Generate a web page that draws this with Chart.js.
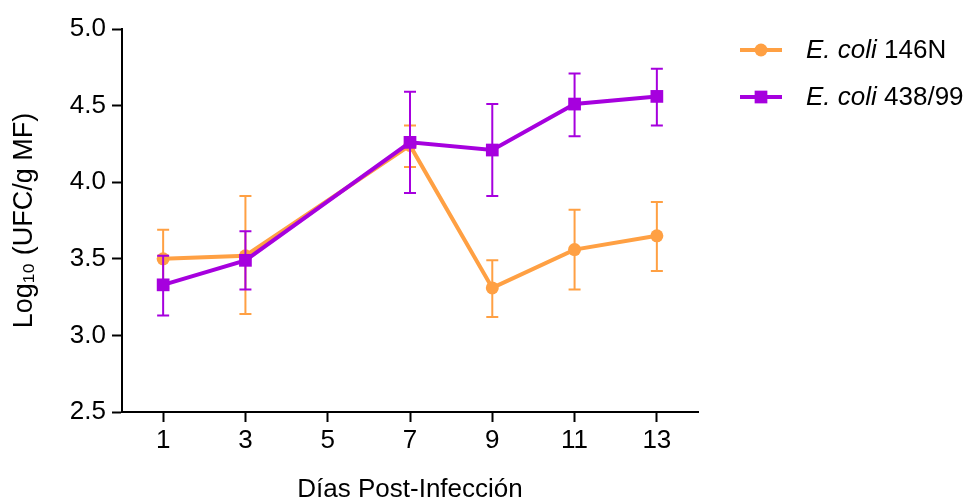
<!DOCTYPE html>
<html>
<head>
<meta charset="utf-8">
<script src="https://cdn.jsdelivr.net/npm/chart.js@4"></script>
<style>
  html, body { margin: 0; padding: 0; background: #fff; }
  #wrap { position: relative; width: 969px; height: 500px; }
</style>
</head>
<body>
<div id="wrap"><canvas id="chart" width="969" height="500"></canvas></div>
<script>
/* ══════════════════════════════════════
   DATA
══════════════════════════════════════ */
const days = [1, 3, 7, 9, 11, 13];
const xTicks = [1, 3, 5, 7, 9, 11, 13];
const yTicks = [2.5, 3, 3.5, 4, 4.5, 5];

const strainA = "146N";
const meanA = [3.50, 3.52, 4.24, 3.31, 3.56, 3.65];
const hiA = [3.69, 3.91, 4.37, 3.49, 3.82, 3.87];
const loA = [3.31, 3.14, 4.10, 3.12, 3.30, 3.42];

const strainB = "438/99";
const meanB = [3.33, 3.49, 4.26, 4.21, 4.51, 4.56];
const hiB = [3.52, 3.68, 4.59, 4.51, 4.71, 4.74];
const loB = [3.13, 3.30, 3.93, 3.91, 4.30, 4.37];

const ORANGE = "#FFA043";
const PURPLE = "#A600DE";
const FONT = "Liberation Sans, Arial, sans-serif";
const SIZE = 26;

/* ══════════════════════════════════════
   ERROR BARS (drawn under each dataset)
══════════════════════════════════════ */
const errorBars = {
  id: "errorBars",
  beforeDatasetDraw(chart, args) {
    const ds = chart.data.datasets[args.index];
    const x = chart.scales.x;
    const y = chart.scales.y;
    const ctx = chart.ctx;
    ctx.save();
    ctx.strokeStyle = ds.borderColor;
    ctx.lineWidth = 2;
    ds.data.forEach((p, i) => {
      const px = x.getPixelForValue(p.x);
      const top = y.getPixelForValue(ds.hi[i]);
      const bot = y.getPixelForValue(ds.lo[i]);
      ctx.beginPath();
      ctx.moveTo(px, top);
      ctx.lineTo(px, bot);
      ctx.moveTo(px - 6, top);
      ctx.lineTo(px + 6, top);
      ctx.moveTo(px - 6, bot);
      ctx.lineTo(px + 6, bot);
      ctx.stroke();
    });
    ctx.restore();
  },
};

/* ══════════════════════════════════════
   LEGEND (italic species + strain)
══════════════════════════════════════ */
const sideLegend = {
  id: "sideLegend",
  afterDraw(chart) {
    const ctx = chart.ctx;
    const rows = [
      { ds: chart.data.datasets[1], y: 50 },
      { ds: chart.data.datasets[0], y: 97 },
    ];
    ctx.save();
    rows.forEach(({ ds, y }) => {
      ctx.strokeStyle = ds.borderColor;
      ctx.lineWidth = 4;
      ctx.beginPath();
      ctx.moveTo(740, y);
      ctx.lineTo(782, y);
      ctx.stroke();
      ctx.fillStyle = ds.borderColor;
      Chart.helpers.drawPoint(ctx, {
        pointStyle: ds.pointStyle,
        radius: ds.pointRadius,
        borderWidth: 0,
      }, 761, y);

      ctx.fillStyle = "#000";
      ctx.textBaseline = "middle";
      ctx.font = `italic ${SIZE}px ${FONT}`;
      ctx.fillText("E. coli", 806, y + 1);
      const w = ctx.measureText("E. coli ").width;
      ctx.font = `${SIZE}px ${FONT}`;
      ctx.fillText(ds.label, 806 + w, y + 1);
    });
    ctx.restore();
  },
};

/* ══════════════════════════════════════
   CHART
══════════════════════════════════════ */
const pts = (means) => days.map((d, i) => ({ x: d, y: means[i] }));

new Chart(document.getElementById("chart"), {
  type: "line",
  data: {
    datasets: [
      {
        label: strainB,
        data: pts(meanB),
        hi: hiB,
        lo: loB,
        borderColor: PURPLE,
        backgroundColor: PURPLE,
        borderWidth: 4,
        pointStyle: "rect",
        pointRadius: 9,
        pointBorderWidth: 0,
        tension: 0,
      },
      {
        label: strainA,
        data: pts(meanA),
        hi: hiA,
        lo: loA,
        borderColor: ORANGE,
        backgroundColor: ORANGE,
        borderWidth: 4,
        pointStyle: "circle",
        pointRadius: 6.5,
        pointBorderWidth: 0,
        tension: 0,
      },
    ],
  },
  options: {
    responsive: false,
    animation: false,
    layout: { padding: { top: 29, right: 271, left: 0, bottom: 0 } },
    plugins: {
      legend: { display: false },
      tooltip: { enabled: false },
    },
    scales: {
      x: {
        type: "linear",
        min: 0,
        max: 14,
        afterBuildTicks: (s) => {
          s.ticks = xTicks.map((v) => ({ value: v }));
        },
        afterFit: (s) => { s.height = 88; },
        grid: {
          drawOnChartArea: false,
          drawTicks: true,
          tickLength: 10,
          tickWidth: 2,
          color: "#000",
        },
        border: { color: "#000", width: 2 },
        ticks: {
          color: "#000",
          padding: 3,
          font: { family: FONT, size: SIZE },
        },
        title: {
          display: true,
          text: "Días Post-Infección",
          color: "#000",
          font: { family: FONT, size: SIZE },
          padding: { top: 0, bottom: -5 },
        },
      },
      y: {
        min: 2.5,
        max: 5,
        afterBuildTicks: (s) => {
          s.ticks = yTicks.map((v) => ({ value: v }));
        },
        afterFit: (s) => { s.width = 122; },
        grid: {
          drawOnChartArea: false,
          drawTicks: true,
          tickLength: 10,
          tickWidth: 2,
          color: "#000",
        },
        border: { color: "#000", width: 2 },
        ticks: {
          color: "#000",
          padding: 6,
          font: { family: FONT, size: SIZE },
          callback: (v) => Number(v).toFixed(1),
        },
        title: {
          display: true,
          text: "Log₁₀ (UFC/g MF)",
          color: "#000",
          font: { family: FONT, size: 27 },
          padding: { top: 8, bottom: 0 },
        },
      },
    },
  },
  plugins: [errorBars, sideLegend],
});
</script>
</body>
</html>
